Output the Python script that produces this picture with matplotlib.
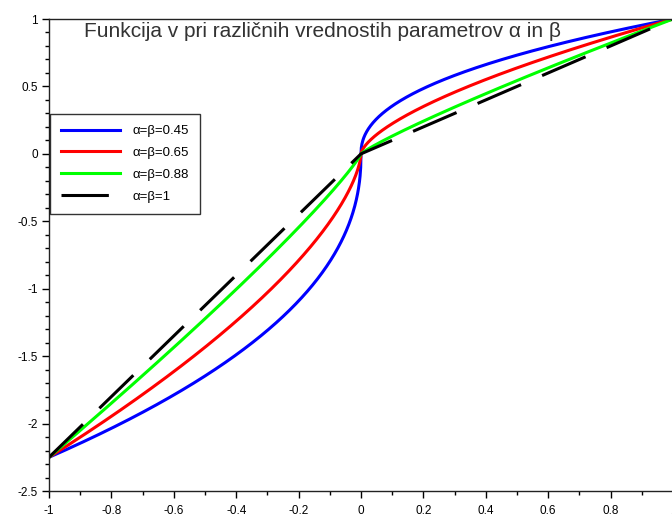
import numpy as np
import matplotlib
matplotlib.use("Agg")
import matplotlib.pyplot as plt
from matplotlib.ticker import MultipleLocator

params = [0.45, 0.65, 0.88, 1.0]
labels = ["α=β=0.45", "α=β=0.65", "α=β=0.88", "α=β=1"]
colors = ["#0000ff", "#ff0000", "#00ff00", "#000000"]
loss_factor = 2.25          # v(-1) = -2.25
x = np.linspace(-1, 1, 2001)


def v(x, a, lam):
    # value function: x^a for gains, -lam*(-x)^a for losses
    return np.where(x >= 0, np.abs(x) ** a, -lam * np.abs(x) ** a)


plt.rcParams['font.family'] = ['Liberation Sans', 'DejaVu Sans']

fig = plt.figure(figsize=(6.72, 5.14), dpi=100)
ax = fig.add_axes([49 / 672, 23 / 514, 624 / 672, 472 / 514])

for p, lab, c in zip(params, labels, colors):
    if p == 1.0:
        ax.plot(x, v(x, p, loss_factor), color=c, lw=2.2, label=lab,
                dashes=(15.5, 7.5))
    else:
        ax.plot(x, v(x, p, loss_factor), color=c, lw=2.2, label=lab)

ax.set_xlim(-1, 1)
ax.set_ylim(-2.5, 1)
ax.xaxis.set_major_locator(MultipleLocator(0.2))
ax.xaxis.set_minor_locator(MultipleLocator(0.1))
ax.yaxis.set_major_locator(MultipleLocator(0.5))
ax.yaxis.set_minor_locator(MultipleLocator(0.1))
ax.tick_params(which='major', direction='out', length=5, width=1, labelsize=8.5, pad=3)
ax.tick_params(which='minor', direction='out', length=3, width=1)
ax.tick_params(axis='x', which='major', pad=5)
fmt = plt.FuncFormatter(lambda val, pos: f"{round(val, 6):g}" if abs(val) > 1e-9 else "0")
ax.xaxis.set_major_formatter(fmt)
ax.yaxis.set_major_formatter(fmt)
for s in ax.spines.values():
    s.set_linewidth(1)
    s.set_color("#222222")

ax.text(0.4375, 0.993, "Funkcija v pri različnih vrednostih parametrov α in β",
        transform=ax.transAxes, ha='center', va='top', fontsize=15, color="#333333")

leg = ax.legend(loc='upper left', bbox_to_anchor=(0.002, 0.799), fontsize=9.5,
                frameon=True, fancybox=False, edgecolor='black', handlelength=4.4,
                handletextpad=1.0, labelspacing=0.72, borderpad=0.85, borderaxespad=0)
leg.get_frame().set_linewidth(1)

fig.savefig("out.png", dpi=100)
